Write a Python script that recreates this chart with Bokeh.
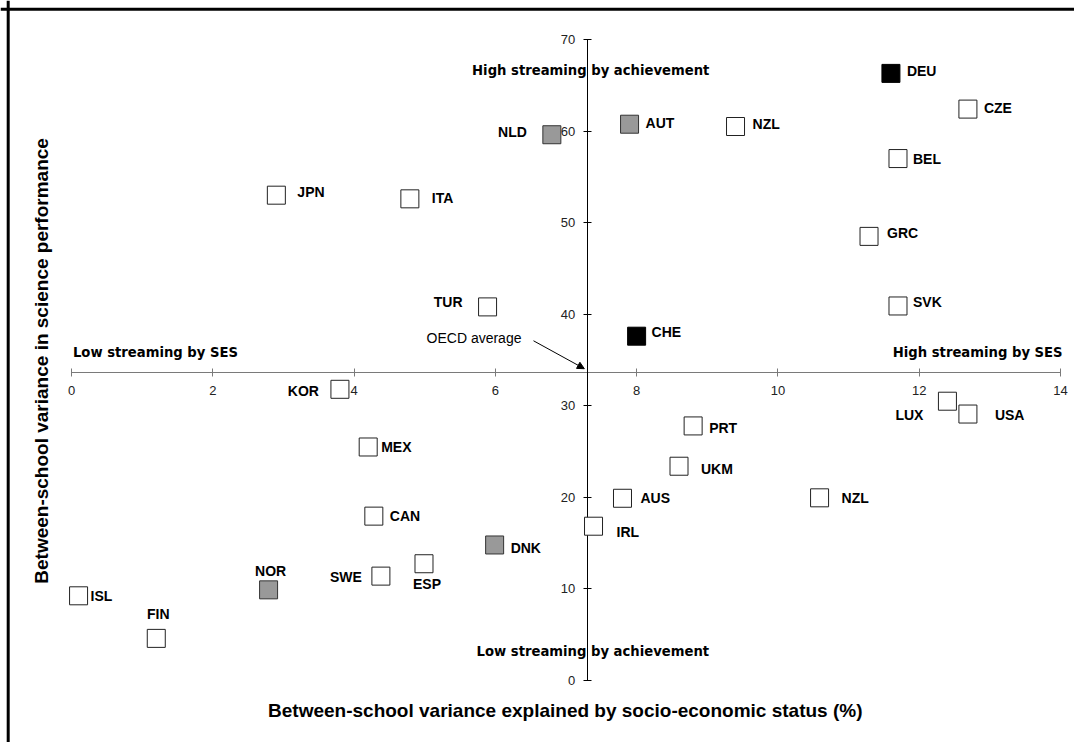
import math
from bokeh.plotting import figure
from bokeh.models import ColumnDataSource, Range1d, FixedTicker, Span, Label, Arrow, NormalHead
from bokeh.embed import file_html
from bokeh.resources import INLINE
from bokeh.core.properties import value

# ---------------- data ----------------
countries = ["JPN", "ITA", "TUR", "NLD", "AUT", "NZL", "DEU", "CZE", "BEL", "GRC",
             "SVK", "CHE", "LUX", "USA", "PRT", "UKM", "AUS", "NZL", "IRL", "KOR",
             "MEX", "CAN", "DNK", "ESP", "SWE", "NOR", "ISL", "FIN"]
ses_variance = [2.90, 4.79, 5.89, 6.80, 7.90, 9.40, 11.60, 12.69, 11.70, 11.29,
                11.70, 8.00, 12.40, 12.69, 8.80, 8.60, 7.80, 10.59, 7.39, 3.80,
                4.20, 4.28, 5.99, 4.99, 4.38, 2.79, 0.10, 1.20]
science_variance = [53.0, 52.6, 40.8, 59.6, 60.75, 60.5, 66.3, 62.4, 57.0, 48.5,
                    40.9, 37.6, 30.5, 29.1, 27.8, 23.4, 19.9, 19.95, 16.85, 31.8,
                    25.5, 17.95, 14.8, 12.75, 11.4, 9.9, 9.25, 4.6]
group = ["open", "open", "open", "grey", "grey", "open", "black", "open", "open", "open",
         "open", "black", "open", "open", "open", "open", "open", "open", "open", "open",
         "open", "open", "grey", "open", "open", "grey", "open", "open"]
oecd_avg_x = 7.3
oecd_avg_y = 33.6
x_ticks = [0, 2, 4, 6, 8, 10, 12, 14]
y_ticks = [0, 10, 20, 30, 40, 50, 60, 70]
x_title = "Between-school variance explained by socio-economic status (%)"
y_title = "Between-school variance in science performance"
quadrant_texts = ["High streaming by achievement", "Low streaming by achievement",
                  "Low streaming by SES", "High streaming by SES"]
oecd_text = "OECD average"

# ---------------- label layout (screen px offsets from marker centre) ----------------
label_dx = [21, 22, -25, -25, 16, 17, 16, 16, 15, 18,
            15, 15, -24, 27, 16, 22, 18, 22, 23, -21,
            13, 16, 16, 3, -19, 2, 12, 2]
label_dy = [-3, -1, -5, -3, -1, -3, -2, -1, 0, -3,
            -4, -4, 14, 1, 2, 3, 0, 0, 6, 2,
            0, 0, 3, 20, 1, -19, 0, -24]
label_align = ["left", "left", "right", "right", "left", "left", "left", "left", "left", "left",
               "left", "left", "right", "left", "left", "left", "left", "left", "left", "right",
               "left", "left", "left", "center", "right", "center", "left", "center"]

fill_map = {"open": "white", "grey": "#999999", "black": "black"}
line_map = {"open": "#222222", "grey": "#333333", "black": "black"}

# ---------------- figure ----------------
W, H = 1074, 742
x0_px, x_scale = 71.0, 70.64     # canvas px of x=0, px per unit
y0_px, y_scale = 680.0, 9.157    # canvas px of y=0, px per unit
x_range = Range1d(-x0_px / x_scale, (W - x0_px) / x_scale)
y_range = Range1d(-(H - y0_px) / y_scale, y0_px / y_scale)

p = figure(width=W, height=H, x_range=x_range, y_range=y_range,
           output_backend="svg", toolbar_location=None, min_border=0, title=None)
p.grid.visible = False
p.outline_line_color = None
p.background_fill_color = "white"
p.border_fill_color = "white"

# axes crossing at OECD average
xa = p.xaxis[0]
xa.fixed_location = oecd_avg_y
xa.bounds = (x_ticks[0], x_ticks[-1])
xa.ticker = FixedTicker(ticks=x_ticks)
xa.minor_tick_line_color = None
xa.major_tick_in = 4
xa.major_tick_out = 4
xa.axis_line_color = "#7a7a7a"
xa.major_tick_line_color = "#7a7a7a"
xa.major_label_text_font = "Liberation Sans"
xa.major_label_text_font_size = "13px"
xa.major_label_text_color = "#222222"
xa.major_label_standoff = 9

ya = p.yaxis[0]
ya.fixed_location = oecd_avg_x
ya.bounds = (y_ticks[0], y_ticks[-1])
ya.ticker = FixedTicker(ticks=y_ticks)
ya.minor_tick_line_color = None
ya.major_tick_in = 4
ya.major_tick_out = 4
ya.axis_line_color = "black"
ya.major_tick_line_color = "black"
ya.major_label_text_font = "Liberation Sans"
ya.major_label_text_font_size = "13px"
ya.major_label_text_color = "#222222"
ya.major_label_standoff = 8
ya.major_label_orientation = "horizontal"

# chart border (top and left edges visible in the window)
p.add_layout(Span(location=(y0_px - 8.7) / y_scale, dimension="width", line_color="black", line_width=3))
p.add_layout(Span(location=(7.7 - x0_px) / x_scale, dimension="height", line_color="black", line_width=3))

# markers
src = ColumnDataSource(dict(
    x=ses_variance, y=science_variance, label=countries,
    fill=[fill_map[g] for g in group], line=[line_map[g] for g in group]))
r = p.scatter("x", "y", source=src, marker="square", size=18,
              fill_color="fill", line_color="line", line_width=1)
r.level = "overlay"

# country labels, one call per alignment
for al in ["left", "right", "center"]:
    idx = [i for i, a in enumerate(label_align) if a == al]
    s = ColumnDataSource(dict(
        x=[ses_variance[i] for i in idx], y=[science_variance[i] for i in idx],
        text=[countries[i] for i in idx],
        dx=[label_dx[i] for i in idx], dy=[label_dy[i] for i in idx]))
    p.text("x", "y", text="text", source=s, x_offset="dx", y_offset="dy",
           text_align=al, text_baseline="middle",
           text_font=value("Liberation Sans"), text_font_style="bold",
           text_font_size="14px", text_color="black")

# quadrant captions
q_font = "DejaVu Sans"
p.add_layout(Label(x=oecd_avg_x + 0.05, y=66.6, text=quadrant_texts[0], text_align="center",
                   text_baseline="middle", text_font=q_font, text_font_style="bold",
                   text_font_size="13.2px", text_color="black"))
p.add_layout(Label(x=oecd_avg_x + 0.08, y=3.2, text=quadrant_texts[1], text_align="center",
                   text_baseline="middle", text_font=q_font, text_font_style="bold",
                   text_font_size="13.2px", text_color="black"))
p.add_layout(Label(x=x_ticks[0] + 0.02, y=35.85, text=quadrant_texts[2], text_align="left",
                   text_baseline="middle", text_font=q_font, text_font_style="bold",
                   text_font_size="13.2px", text_color="black"))
p.add_layout(Label(x=x_ticks[-1] + 0.03, y=35.85, text=quadrant_texts[3], text_align="right",
                   text_baseline="middle", text_font=q_font, text_font_style="bold",
                   text_font_size="13.2px", text_color="black"))

# OECD average label and arrow
p.add_layout(Label(x=6.37, y=37.35, text=oecd_text, text_align="right", text_baseline="middle",
                   text_font="Liberation Sans", text_font_size="14px", text_color="black"))
p.add_layout(Arrow(x_start=6.54, y_start=37.1, x_end=oecd_avg_x - 0.04, y_end=oecd_avg_y + 0.45,
                   line_color="black", line_width=1,
                   end=NormalHead(size=7, fill_color="black", line_color="black")))

# axis titles
p.add_layout(Label(x=6.99, y=-3.28, text=x_title, text_align="center", text_baseline="middle",
                   text_font="Liberation Sans", text_font_style="bold", text_font_size="19px",
                   text_color="black"))
p.add_layout(Label(x=-0.418, y=34.9, text=y_title, angle=math.pi / 2, text_align="center",
                   text_baseline="middle", text_font="Liberation Sans", text_font_style="bold",
                   text_font_size="19px", text_color="black"))

open("out.html", "w").write(file_html(p, INLINE))
